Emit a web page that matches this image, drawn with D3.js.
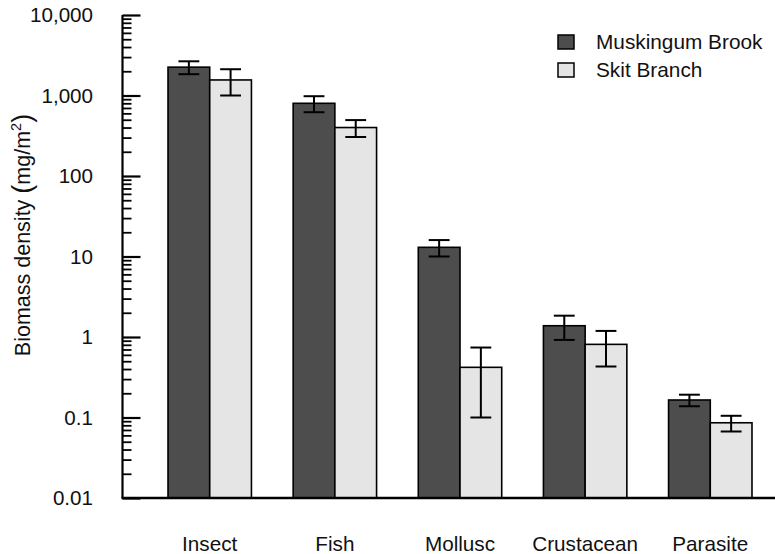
<!DOCTYPE html>
<html>
<head>
<meta charset="utf-8">
<script src="https://cdn.jsdelivr.net/npm/d3@7"></script>
<style>
  html, body { margin: 0; padding: 0; background: #fff; }
  svg { display: block; font-family: "Liberation Sans", Arial, Helvetica, sans-serif; }
</style>
</head>
<body>
<svg id="chart" width="775" height="554"></svg>
<script>
const categories = ["Insect", "Fish", "Mollusc", "Crustacean", "Parasite"];
const seriesNames = ["Muskingum Brook", "Skit Branch"];
const muskingumValues = [2250, 800, 13, 1.38, 0.165];
const muskingumErrors = [410, 180, 3, 0.46, 0.027];
const skitValues = [1560, 400, 0.42, 0.81, 0.086];
const skitErrors = [560, 95, 0.32, 0.38, 0.019];
const majorTickValues = [0.01, 0.1, 1, 10, 100, 1000, 10000];
const majorTickLabels = ["0.01", "0.1", "1", "10", "100", "1,000", "10,000"];
const seriesColors = ["#4d4d4d", "#e5e5e5"];

const svg = d3.select("#chart");
const W = 775, H = 554;
const axisX = 122.5, axisY = 498, topY = 15;

const y = d3.scaleLog().domain([0.01, 10000]).range([axisY, topY]);
const x0 = d3.scaleBand().domain(categories).range([126.3, 793.7])
  .paddingInner(1/3).paddingOuter(1/3);
const x1 = d3.scaleBand().domain(seriesNames).range([0, x0.bandwidth()]);

const data = categories.map((c, i) => ({
  cat: c,
  vals: [
    {s: seriesNames[0], v: muskingumValues[i], e: muskingumErrors[i], color: seriesColors[0]},
    {s: seriesNames[1], v: skitValues[i], e: skitErrors[i], color: seriesColors[1]}
  ]
}));

// bars
const groups = svg.append("g").selectAll("g").data(data).join("g")
  .attr("transform", d => `translate(${x0(d.cat)},0)`);
groups.selectAll("rect").data(d => d.vals).join("rect")
  .attr("x", d => x1(d.s))
  .attr("y", d => y(d.v))
  .attr("width", x1.bandwidth())
  .attr("height", d => axisY - y(d.v))
  .attr("fill", d => d.color)
  .attr("stroke", "#000")
  .attr("stroke-width", 1.6);

// error bars
const capW = x1.bandwidth() / 2;
groups.selectAll("g.err").data(d => d.vals).join("g").attr("class", "err")
  .each(function(d) {
    const g = d3.select(this);
    const cx = x1(d.s) + x1.bandwidth() / 2;
    const hi = y(d.v + d.e), lo = y(Math.max(d.v - d.e, 1e-6));
    g.append("line").attr("x1", cx).attr("x2", cx).attr("y1", hi).attr("y2", lo)
      .attr("stroke", "#000").attr("stroke-width", 2);
    [hi, lo].forEach(yy => g.append("line")
      .attr("x1", cx - capW / 2).attr("x2", cx + capW / 2)
      .attr("y1", yy).attr("y2", yy)
      .attr("stroke", "#000").attr("stroke-width", 2));
  });

// minor ticks
const minorVals = [];
for (let e = -2; e < 4; e++) for (let m = 2; m <= 9; m++) minorVals.push(m * Math.pow(10, e));
const minorAxis = svg.append("g").attr("transform", `translate(${axisX},0)`)
  .call(d3.axisLeft(y).tickValues(minorVals).tickSize(-9).tickFormat(""));
minorAxis.select(".domain").remove();
minorAxis.selectAll("line").attr("stroke", "#000").attr("stroke-width", 1.8);

// major ticks
const majorAxis = svg.append("g").attr("transform", `translate(${axisX},0)`)
  .call(d3.axisLeft(y).tickValues(majorTickValues).tickSize(-18).tickPadding(29.5)
    .tickFormat((d, i) => majorTickLabels[i]));
majorAxis.select(".domain").attr("stroke", "#000").attr("stroke-width", 2.2)
  .attr("d", `M0,${topY}V${axisY}`);
majorAxis.selectAll("line").attr("stroke", "#000").attr("stroke-width", 2.2);
majorAxis.selectAll("text").attr("font-size", 20.6).attr("fill", "#111")
  .attr("font-family", "Liberation Sans, Arial, sans-serif");

// x axis line
svg.append("line").attr("x1", axisX - 1).attr("x2", W).attr("y1", axisY).attr("y2", axisY)
  .attr("stroke", "#000").attr("stroke-width", 2.4);

// x labels
svg.append("g").selectAll("text").data(categories).join("text")
  .attr("x", d => x0(d) + x0.bandwidth() / 2)
  .attr("y", 551)
  .attr("text-anchor", "middle")
  .attr("font-size", 20.7)
  .attr("fill", "#111")
  .text(d => d);

// y title
const yt = svg.append("text")
  .attr("transform", "translate(30,235) rotate(-90)")
  .attr("text-anchor", "middle")
  .attr("font-size", 21.5)
  .attr("fill", "#111");
yt.append("tspan").text("Biomass density ");
yt.append("tspan").attr("font-size", 27).attr("dy", 1).text("(");
yt.append("tspan").attr("dy", -1).text("mg/m");
yt.append("tspan").attr("font-size", 14.5).attr("dy", -9).text("2");
yt.append("tspan").attr("font-size", 27).attr("dy", 10).text(")");

// legend
const lg = svg.append("g").selectAll("g").data(seriesNames).join("g")
  .attr("transform", (d, i) => `translate(558,${35 + i * 28})`);
lg.append("rect").attr("width", 16).attr("height", 14)
  .attr("fill", (d, i) => seriesColors[i]).attr("stroke", "#000").attr("stroke-width", 1.5);
lg.append("text").attr("x", 38).attr("y", 14).attr("font-size", 20.8).attr("fill", "#111")
  .text(d => d);
</script>
</body>
</html>
